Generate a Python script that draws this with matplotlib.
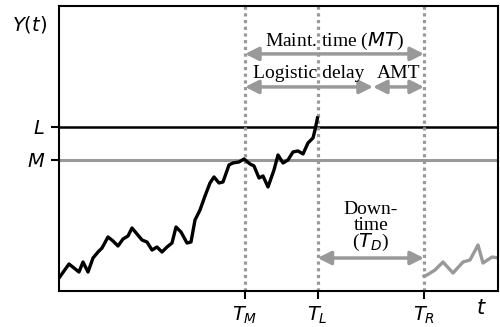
import matplotlib
matplotlib.use('Agg')
import matplotlib.pyplot as plt

# degradation path Y(t) until failure at T_L (arbitrary units)
t_path = [0, 10, 20, 24, 29, 34, 39, 43, 49, 54, 59, 64, 69, 73, 78, 83, 88, 93, 98,
          103, 108, 113, 117, 122, 128, 132, 136, 141, 146, 151, 155, 160, 164, 170,
          174, 180, 185, 191, 195, 200, 204, 209, 215, 219, 224, 229, 234, 239, 244,
          249, 254, 256, 258.5]
y_path = [13, 27, 19, 29, 19, 33, 39, 43, 54, 50, 45, 52, 55, 63, 57, 51, 49, 41, 44,
          39, 44, 48, 64, 59, 48, 49, 71, 81, 95, 108, 114, 108, 109, 126,
          128, 129, 132, 127, 125, 113, 115, 104, 121, 136, 128, 131, 139, 140, 137,
          148, 153, 161, 173]

# new component after replacement at T_R
t_new = [365, 368, 376, 384, 394, 404, 411, 419, 424, 433, 440]
y_new = [15, 16, 21, 29, 18, 29, 31, 46, 28, 34, 33]

T_M, T_L, T_R = 186, 258.5, 365
t_split = 314          # end of logistic delay
L_level, M_level = 164, 131

GRAY = '0.6'
SERIF = 'Liberation Serif'

fig = plt.figure(figsize=(5, 3.27), dpi=100)
ax = fig.add_axes([0.118, 0.110, 0.878, 0.872])
ax.set_xlim(0, 439)
ax.set_ylim(0, 285)

ax.axhline(L_level, color='black', lw=1.8)
ax.axhline(M_level, color=GRAY, lw=2.2)
for tv in [T_M, T_L, T_R]:
    ax.axvline(tv, color=GRAY, lw=2.3, ls=(0, (1, 1.1)))

ax.plot(t_path, y_path, color='black', lw=2.4)
ax.plot(t_new, y_new, color=GRAY, lw=2.4)

def arrow(x0, x1, y):
    ax.annotate('', xy=(x1, y), xytext=(x0, y),
                arrowprops=dict(arrowstyle='<|-|>', color=GRAY, lw=2.5,
                                mutation_scale=20, shrinkA=0, shrinkB=0))

arrow(T_M, T_R, 237)
arrow(T_M, t_split, 204)
arrow(t_split, T_R, 204)
arrow(T_L, T_R, 33)

ax.text((T_M + T_R) / 2, 249, 'Maint. time ($MT$)', family=SERIF, fontsize=14,
        ha='center', va='center')
ax.text((T_M + t_split) / 2, 217, 'Logistic delay', family=SERIF, fontsize=14,
        ha='center', va='center')
ax.text((t_split + T_R) / 2, 217, 'AMT', family=SERIF, fontsize=14,
        ha='center', va='center')
ax.text((T_L + T_R) / 2, 64, 'Down-\ntime\n($T_D$)', family=SERIF, fontsize=14,
        ha='center', va='center', linespacing=0.9)

ax.set_xticks([T_M, T_L, T_R], ['$T_M$', '$T_L$', '$T_R$'], fontsize=14)
ax.set_yticks([L_level, M_level], ['$L$', '$M$'], fontsize=14)
ax.tick_params(length=6, width=1.5, pad=4)
for s in ax.spines.values():
    s.set_linewidth(1.5)

ax.text(-0.068, 0.933, '$Y(t)$', transform=ax.transAxes, fontsize=14,
        ha='center', va='center')
ax.text(0.963, -0.058, '$t$', transform=ax.transAxes, fontsize=15,
        ha='center', va='center')

fig.savefig('out.png', dpi=100)
